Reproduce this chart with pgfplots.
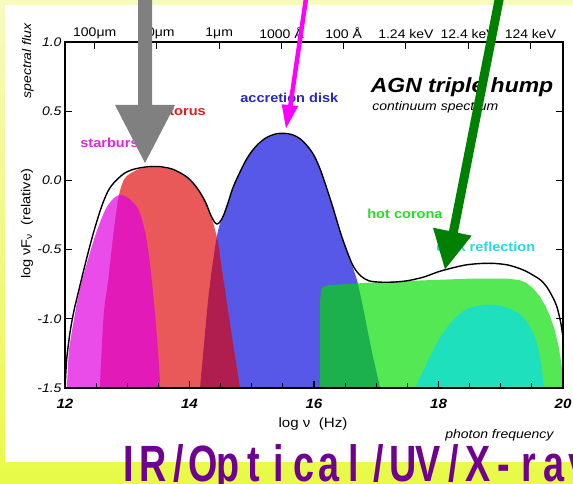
\documentclass[border=0pt]{standalone}
\usepackage{pgfplots}
\pgfplotsset{compat=1.18}
\usepackage{fontspec}
\setmainfont{Liberation Sans}[FakeStretch=1.12]
\newfontfamily\bigfont{Liberation Sans}[FakeStretch=0.74]
\definecolor{diskblue}{RGB}{88,88,232}
\definecolor{torusred}{RGB}{224,0,0}
\definecolor{starmag}{RGB}{224,0,224}
\definecolor{corgreen}{RGB}{0,222,0}
\definecolor{refcyan}{RGB}{30,224,188}
\definecolor{ltorus}{RGB}{225,30,30}
\definecolor{lstar}{RGB}{220,40,220}
\definecolor{ldisk}{RGB}{40,40,200}
\definecolor{lcor}{RGB}{40,220,40}
\definecolor{lref}{RGB}{40,215,225}
\definecolor{agray}{RGB}{128,128,128}
\definecolor{amag}{RGB}{255,0,255}
\definecolor{agreen}{RGB}{0,128,0}
\definecolor{purp}{RGB}{112,0,145}
\definecolor{bgtop}{RGB}{246,250,190}
\definecolor{bgbot}{RGB}{232,250,70}
\begin{document}
\begin{tikzpicture}[x=1pt,y=1pt]
\shade[top color=bgtop, bottom color=bgbot] (0,0) rectangle (573,484);
\useasboundingbox (0,0) rectangle (573,484);
\fill[white] (5,22) rectangle (573,479);

\begin{axis}[
  at={(65pt,96pt)}, anchor=south west, scale only axis,
  width=498pt, height=346pt,
  xmin=12, xmax=20, ymin=-1.5, ymax=1.0,
  axis on top,
  axis line style={line width=1.2pt},
  xtick={12,14,16,18,20}, xticklabels={12,14,16,18,20},
  minor xtick={12.5,13,...,19.5},
  xtick pos=left,
  ytick={-1.5,-1,-0.5,0,0.5,1}, yticklabels={-1.5,-1.0,-0.5,0.0,0.5,1.0},
  ytick pos=both, yticklabel pos=left,
  tick align=inside,
  major tick length=7pt, minor tick length=5pt,
  tick style={black, line width=1.1pt},
  xticklabel style={font=\fontsize{13.5}{13.5}\selectfont\bfseries\itshape, yshift=-8pt},
  yticklabel style={font=\fontsize{12.5}{12.5}\selectfont\itshape},
]
% accretion disk
\addplot[fill=diskblue, draw=none, smooth, tension=0.5] coordinates {
(14.16,-1.6) (14.17,-1.5) (14.22,-1.25) (14.30,-0.86) (14.38,-0.575) (14.46,-0.36)
(14.54,-0.26) (14.62,-0.165) (14.70,-0.055) (14.80,0.045) (14.90,0.135) (15.0,0.205)
(15.12,0.265) (15.24,0.305) (15.38,0.33) (15.51,0.335) (15.65,0.325) (15.78,0.295)
(15.90,0.24) (16.0,0.175) (16.1,0.075) (16.2,-0.055) (16.3,-0.195) (16.42,-0.375)
(16.52,-0.505) (16.60,-0.60) (16.69,-0.72) (16.78,-0.90) (16.85,-1.06) (16.95,-1.28)
(17.06,-1.5) (17.07,-1.6)};
% torus
\addplot[fill=torusred, fill opacity=0.65, draw=none, smooth, tension=0.5] coordinates {
(12.55,-1.6) (12.56,-1.5) (12.62,-0.98) (12.70,-0.70) (12.78,-0.38) (12.86,-0.12)
(12.96,0.015) (13.15,0.075) (13.3,0.092) (13.5,0.095) (13.7,0.08) (13.85,0.05)
(13.97,0.015) (14.06,-0.025) (14.16,-0.085) (14.26,-0.16) (14.34,-0.25) (14.40,-0.34)
(14.46,-0.455) (14.54,-0.70) (14.62,-0.94) (14.70,-1.18) (14.81,-1.5) (14.82,-1.6)};
% starburst
\addplot[fill=starmag, fill opacity=0.7, draw=none, smooth, tension=0.5] coordinates {
(12.02,-1.6) (12.03,-1.5) (12.06,-1.25) (12.10,-1.12) (12.22,-0.82) (12.35,-0.6)
(12.50,-0.38) (12.65,-0.21) (12.78,-0.13) (12.88,-0.105) (12.97,-0.115) (13.05,-0.14)
(13.18,-0.21) (13.29,-0.38) (13.37,-0.62) (13.45,-0.98) (13.50,-1.27) (13.53,-1.5) (13.53,-1.6)};
% hot corona
\addplot[fill=corgreen, fill opacity=0.67, draw=none] coordinates {
(16.10,-1.6) (16.10,-0.86) (16.11,-0.81) (16.13,-0.78) (16.17,-0.765) (16.25,-0.757)
(16.5,-0.75) (16.85,-0.74) (17.3,-0.73) (17.9,-0.72) (18.5,-0.71) (19.1,-0.71)
(19.3,-0.72) (19.41,-0.74) (19.52,-0.78) (19.63,-0.84) (19.72,-0.91) (19.79,-0.98)
(19.86,-1.07) (19.92,-1.18) (19.96,-1.28) (19.98,-1.35) (20.0,-1.5) (20.0,-1.6)};
% disk reflection
\addplot[fill=refcyan, draw=none, smooth, tension=0.5] coordinates {
(17.62,-1.6) (17.63,-1.5) (17.75,-1.38) (17.89,-1.25) (18.02,-1.14) (18.16,-1.05)
(18.30,-0.98) (18.45,-0.93) (18.60,-0.91) (18.75,-0.90) (18.93,-0.90) (19.10,-0.92)
(19.25,-0.95) (19.38,-1.0) (19.48,-1.07) (19.57,-1.16) (19.63,-1.28) (19.67,-1.40)
(19.69,-1.5) (19.69,-1.6)};
% total continuum
\addplot[black, line width=1.4pt, smooth, tension=0.5] coordinates {
(12.0,-1.55) (12.01,-1.42) (12.03,-1.28) (12.08,-1.10) (12.14,-0.95) (12.24,-0.76)
(12.35,-0.56) (12.45,-0.39) (12.55,-0.24) (12.62,-0.15) (12.70,-0.07) (12.80,-0.01)
(12.95,0.05) (13.1,0.08) (13.3,0.097) (13.5,0.10) (13.7,0.085) (13.85,0.055)
(13.97,0.02) (14.06,-0.02) (14.16,-0.08) (14.26,-0.16) (14.34,-0.25) (14.40,-0.30)
(14.44,-0.315) (14.49,-0.30) (14.55,-0.25) (14.62,-0.16) (14.70,-0.05) (14.80,0.05)
(14.90,0.14) (15.0,0.21) (15.12,0.27) (15.24,0.31) (15.38,0.335) (15.51,0.34)
(15.65,0.33) (15.78,0.30) (15.90,0.245) (16.0,0.18) (16.1,0.08) (16.2,-0.05)
(16.3,-0.19) (16.42,-0.37) (16.52,-0.50) (16.63,-0.62) (16.75,-0.69) (16.88,-0.725)
(17.05,-0.735) (17.27,-0.735) (17.5,-0.725) (17.75,-0.70) (18.0,-0.66) (18.2,-0.635)
(18.45,-0.61) (18.7,-0.60) (18.9,-0.60) (19.1,-0.61) (19.26,-0.63) (19.4,-0.655)
(19.52,-0.685) (19.64,-0.72) (19.74,-0.77) (19.83,-0.84) (19.90,-0.91) (19.96,-1.02)
(20.0,-1.13)};
% labels
\node[anchor=west, text=ltorus, font=\fontsize{13}{13}\selectfont\bfseries] at (13.62,0.50) {torus};
\node[anchor=west, text=lstar, font=\fontsize{13}{13}\selectfont\bfseries] at (12.19,0.27) {starburst};
\node[anchor=west, text=ldisk, font=\fontsize{13}{13}\selectfont\bfseries] at (14.76,0.60) {accretion disk};
\node[anchor=west, text=lcor, font=\fontsize{13}{13}\selectfont\bfseries] at (16.80,-0.243) {hot corona};
\node[anchor=east, text=lref, font=\fontsize{13}{13}\selectfont\bfseries] at (19.61,-0.48) {disk reflection};
\node[anchor=east, font=\fontsize{20.5}{20.5}\selectfont\bfseries\itshape] at (19.90,0.675) {AGN triple hump};
\node[anchor=west, font=\fontsize{12.5}{12.5}\selectfont\itshape] at (16.88,0.53) {continuum spectrum};
\end{axis}

\begin{axis}[
  at={(65pt,96pt)}, anchor=south west, scale only axis,
  width=498pt, height=346pt,
  xmin=12, xmax=20, ymin=-1.5, ymax=1.0,
  hide y axis,
  axis line style={line width=1.2pt},
  xtick={12.477,13.477,14.477,15.477,16.477,17.477,18.477,19.477},
  xticklabels={100μm,10μm,1μm,1000 Å,100 Å,1.24 keV,12.4 keV,124 keV},
  xtick pos=right, xticklabel pos=right,
  tick align=inside, major tick length=7pt,
  tick style={black, line width=1.1pt},
  xticklabel style={font=\fontsize{12.5}{12.5}\selectfont},
]
\addplot[draw=none] coordinates {(12,0)};
\end{axis}

% outer texts
\node[rotate=90, font=\fontsize{12.5}{12.5}\selectfont\itshape] at (28,423) {spectral flux};
\node[rotate=90, font=\fontsize{13}{13}\selectfont] at (27,260) {log νF\textsubscript{ν}\ \ (relative)};
\node[font=\fontsize{13.5}{13.5}\selectfont] at (313,60) {log ν\ \ (Hz)};
\node[anchor=east, font=\fontsize{12.5}{12.5}\selectfont\itshape] at (557,49) {photon frequency};

% arrows
\fill[agray] (138,489) -- (138,379) -- (115,379) -- (145,321) -- (175,379) -- (152,379) -- (152,489) -- cycle;
\draw[amag, line width=4.5pt] (306.5,489) -- (290,376);
\fill[amag] (281.7,379.7) -- (298.3,378) -- (286,355.7) -- cycle;
\draw[agreen, line width=9pt] (500,489) -- (453,250);
\fill[agreen] (433,256.3) -- (471.7,248.3) -- (445,214.7) -- cycle;

% big text
\begin{scope}
\clip (0,0) rectangle (573,484);
\foreach \c [count=\i from 0] in {I,R,/,O,p,t,i,c,a,l,/,U,V,/,X,-,r,a,y}
  \node[anchor=base, text=purp, inner sep=0pt, font=\bigfont\bfseries\fontsize{51}{51}\selectfont] at ({128.5+25.0*\i},2) {\c};
\end{scope}
\end{tikzpicture}
\end{document}
